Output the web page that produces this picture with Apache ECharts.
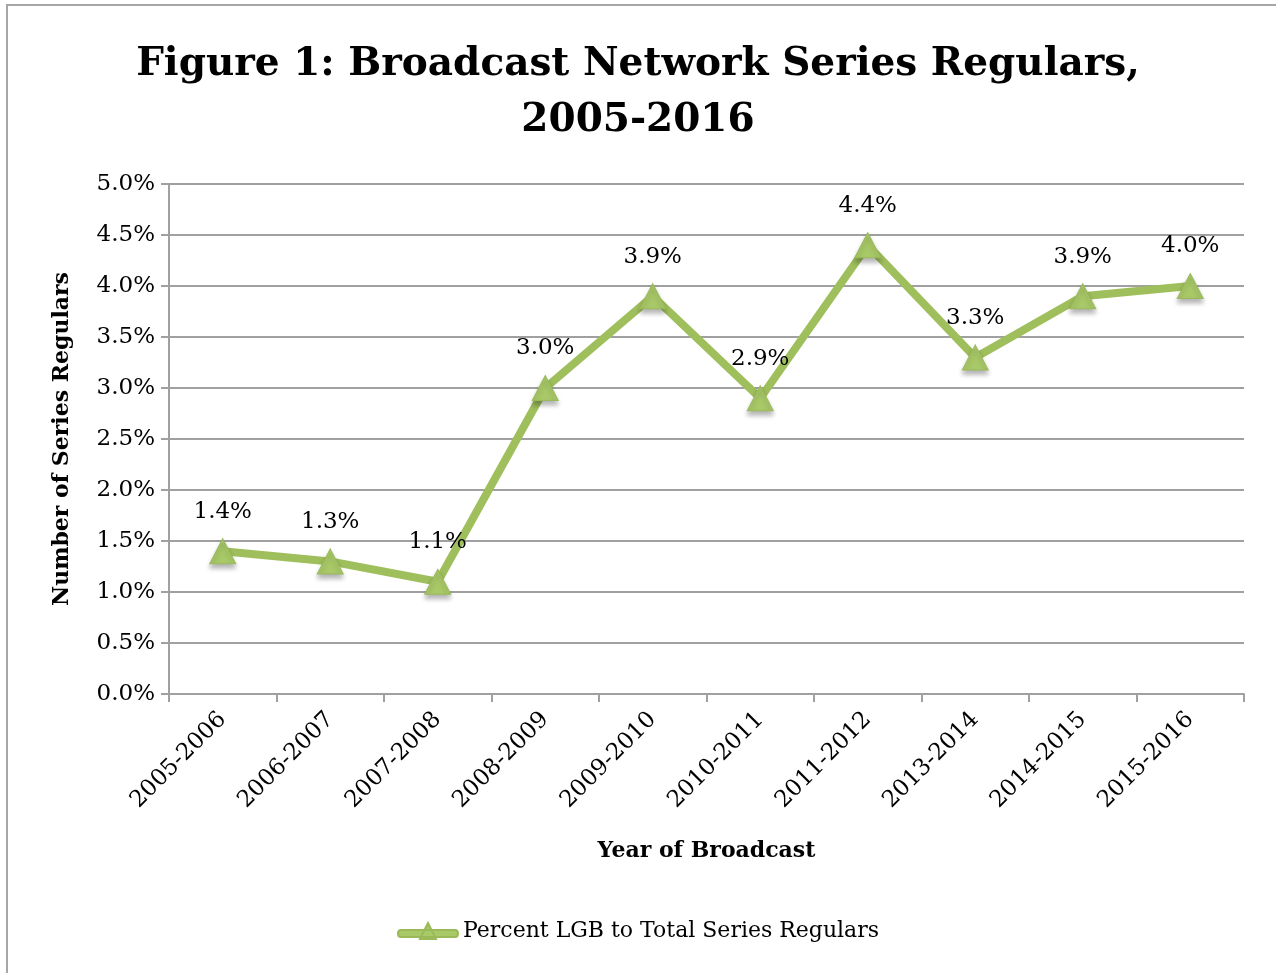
<!DOCTYPE html>
<html>
<head>
<meta charset="utf-8">
<script src="https://cdn.jsdelivr.net/npm/echarts@6/dist/echarts.min.js"></script>
<style>
  html, body { margin: 0; padding: 0; background: #fff; }
  #frame { position: absolute; left: 6px; top: 4px; width: 1290px; height: 990px; border: 2px solid #a6a6a6; box-sizing: border-box; }
  #chart { position: absolute; left: 0; top: 0; width: 1276px; height: 973px; }
</style>
</head>
<body>
<div id="frame"></div>
<div id="chart"></div>
<script>
// 数据
var seasons = ['2005-2006', '2006-2007', '2007-2008', '2008-2009', '2009-2010',
               '2010-2011', '2011-2012', '2013-2014', '2014-2015', '2015-2016'];
var lgbPercent = [1.4, 1.3, 1.1, 3.0, 3.9, 2.9, 4.4, 3.3, 3.9, 4.0];
var seriesName = 'Percent LGB to Total Series Regulars';

var serif = '"DejaVu Serif", "Liberation Serif", serif';
var lineGreen = '#9fbf5c';
var markGreen = '#a9c968';

// 图例图标：线 + 三角
var legendIcon = 'path://M3,7 L57,7 Q60,7 60,10.5 Q60,14 57,14 L3,14 Q0,14 0,10.5 Q0,7 3,7 Z M30,0 L38,16 L22,16 Z';

var chart = echarts.init(document.getElementById('chart'));
var option = {
  animation: false,
  textStyle: { fontFamily: serif },
  title: {
    text: 'Figure 1: Broadcast Network Series Regulars,\n2005-2016',
    left: 'center',
    top: 32,
    textStyle: { fontFamily: serif, fontSize: 39, fontWeight: 'bold', color: '#000', lineHeight: 56 }
  },
  legend: {
    bottom: 26,
    left: 'center',
    itemWidth: 60,
    itemHeight: 18,
    itemGap: 4,
    textStyle: { fontFamily: serif, fontSize: 22, color: '#000' },
    data: [{ name: seriesName, icon: legendIcon, itemStyle: { color: markGreen } }]
  },
  grid: { left: 169, right: 32, top: 184, bottom: 279 },
  xAxis: {
    type: 'category',
    data: seasons,
    name: 'Year of Broadcast',
    nameLocation: 'middle',
    nameGap: 146,
    nameTextStyle: { fontFamily: serif, fontSize: 22, fontWeight: 'bold', color: '#000' },
    axisLine: { lineStyle: { color: '#a0a0a0', width: 2 } },
    axisTick: { show: true, length: 8, lineStyle: { color: '#a0a0a0', width: 2 } },
    axisLabel: { rotate: 45, fontSize: 23, color: '#000', margin: 22, interval: 0 }
  },
  yAxis: {
    type: 'value',
    min: 0,
    max: 5,
    interval: 0.5,
    name: 'Number of Series Regulars',
    nameLocation: 'middle',
    nameGap: 96,
    nameTextStyle: { fontFamily: serif, fontSize: 22, fontWeight: 'bold', color: '#000' },
    axisLine: { show: true, lineStyle: { color: '#a0a0a0', width: 2 } },
    axisTick: { show: true, inside: false, length: 8, lineStyle: { color: '#a0a0a0', width: 2 } },
    splitLine: { lineStyle: { color: '#a0a0a0', width: 2 } },
    axisLabel: {
      fontSize: 23, color: '#000', margin: 14,
      formatter: function (v) { return v.toFixed(1) + '%'; }
    }
  },
  series: [{
    name: seriesName,
    type: 'line',
    data: lgbPercent,
    symbol: 'triangle',
    symbolSize: [26, 25],
    lineStyle: { color: lineGreen, width: 8 },
    itemStyle: {
      color: markGreen, borderColor: '#9aba5a', borderWidth: 1,
      shadowColor: 'rgba(0,0,0,0.3)', shadowBlur: 5, shadowOffsetY: 4
    },
    label: {
      show: true,
      position: 'top',
      distance: 15,
      fontFamily: serif,
      fontSize: 23,
      color: '#000',
      formatter: function (p) { return p.value.toFixed(1) + '%'; }
    }
  }]
};
chart.setOption(option);
</script>
</body>
</html>
